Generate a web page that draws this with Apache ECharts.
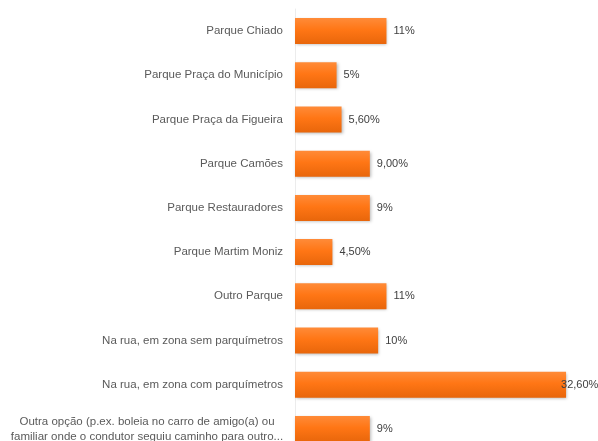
<!DOCTYPE html>
<html>
<head>
<meta charset="utf-8">
<script src="https://cdn.jsdelivr.net/npm/echarts@6/dist/echarts.min.js"></script>
<style>
  html, body { margin: 0; padding: 0; background: #ffffff; }
  #chart { width: 598px; height: 441px; }
</style>
</head>
<body>
<div id="chart"></div>
<script>
// Onde estacionou: percentagem de respostas por opção
var categories = [
  'Parque Chiado',
  'Parque Praça do Município',
  'Parque Praça da Figueira',
  'Parque Camões',
  'Parque Restauradores',
  'Parque Martim Moniz',
  'Outro Parque',
  'Na rua, em zona sem parquímetros',
  'Na rua, em zona com parquímetros',
  'Outra opção (p.ex. boleia no carro de amigo(a) ou\nfamiliar onde o condutor seguiu caminho para outro...'
];
var values = [11, 5, 5.6, 9, 9, 4.5, 11, 10, 32.6, 9];
var valueLabels = ['11%', '5%', '5,60%', '9,00%', '9%', '4,50%', '11%', '10%', '32,60%', '9%'];

var barColor = new echarts.graphic.LinearGradient(0, 0, 0, 1, [
  { offset: 0, color: '#ff8b38' },
  { offset: 0.45, color: '#ff7615' },
  { offset: 1, color: '#e8660b' }
]);

var seriesData = values.map(function (v) {
  var item = { value: v };
  // the longest bar's label is pulled back so it stays inside the canvas
  if (v === Math.max.apply(null, values)) {
    item.label = { offset: [-12, 0] };
  }
  return item;
});

var chart = echarts.init(document.getElementById('chart'), null, { renderer: 'canvas' });
chart.setOption({
  animation: false,
  backgroundColor: '#ffffff',
  grid: {
    left: 295, right: 12, top: 9, height: 442,
    containLabel: false,
    outerBoundsMode: 'none'
  },
  xAxis: {
    type: 'value',
    min: 0,
    max: 35,
    show: false
  },
  yAxis: {
    type: 'category',
    data: categories,
    inverse: true,
    axisLine: { show: true, lineStyle: { color: '#ececec', width: 1 } },
    axisTick: { show: false },
    axisLabel: {
      margin: 12,
      color: '#5a5a5a',
      fontFamily: 'Liberation Sans, Arial, sans-serif',
      fontSize: 11.5,
      lineHeight: 15,
      formatter: function (val) {
        // two-line category: lines centred on each other
        if (val.indexOf('\n') >= 0) {
          return val.split('\n').map(function (s) { return '{w|' + s + '}'; }).join('\n');
        }
        return val;
      },
      rich: {
        w: {
          width: 272,
          align: 'center',
          color: '#5a5a5a',
          fontFamily: 'Liberation Sans, Arial, sans-serif',
          fontSize: 11.5,
          lineHeight: 15
        }
      }
    },
    splitLine: { show: false }
  },
  series: [{
    type: 'bar',
    data: seriesData,
    barWidth: 26,
    itemStyle: {
      color: barColor,
      shadowColor: 'rgba(0,0,0,0.28)',
      shadowBlur: 3,
      shadowOffsetX: 1,
      shadowOffsetY: 1
    },
    label: {
      show: true,
      position: 'right',
      distance: 7,
      color: '#404040',
      fontFamily: 'Liberation Sans, Arial, sans-serif',
      fontSize: 11,
      formatter: function (p) { return valueLabels[p.dataIndex]; }
    }
  }]
});
</script>
</body>
</html>
